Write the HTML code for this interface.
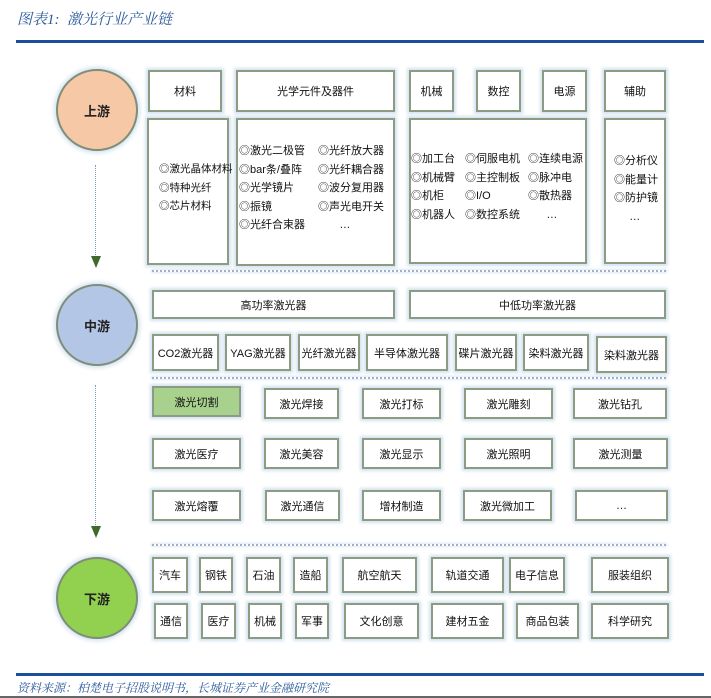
<!DOCTYPE html>
<html><head><meta charset="utf-8"><style>
body{margin:0;width:711px;height:698px;background:#fff;position:relative;overflow:hidden;font-family:"Liberation Sans","Noto Sans CJK SC",sans-serif;}
.b{position:absolute;box-sizing:border-box;border:2px solid #8c9c82;background:#fff;box-shadow:0 0 3px 2px #d3e2f0;display:flex;align-items:center;justify-content:center;font-size:11px;color:#111;text-align:center;white-space:nowrap}
.l{position:absolute;font-size:11px;line-height:18.5px;color:#111;white-space:nowrap}
.c{position:absolute;border-radius:50%;border:2px solid #7e8e78;box-sizing:border-box;display:flex;align-items:center;justify-content:center;font-size:13px;font-weight:bold;color:#222;box-shadow:0 0 4px 2px #d3e2f0}
.d{position:absolute;left:152px;width:514px;height:0;border-top:2px dotted #9fb0c8;box-shadow:0 0 2px 1px #dce8f4}
.v{position:absolute;left:95px;width:0;border-left:1.5px dotted #7f98b8}
.a{position:absolute;left:91px;width:0;height:0;border-left:5px solid transparent;border-right:5px solid transparent;border-top:12px solid #3f6a2a}
</style></head><body>
<div style="position:absolute;left:17px;top:8px;font-size:15px;font-style:italic;color:#2a5a9a;font-family:'Liberation Serif','Noto Serif CJK SC',serif">图表1:&nbsp; 激光行业产业链</div>
<div style="position:absolute;left:16px;top:40px;width:688px;height:3px;background:#1b4f9c"></div>

<div class="c" style="left:56px;top:69px;width:82px;height:82px;background:#f6c8a6">上游</div>
<div class="c" style="left:56px;top:284px;width:82px;height:82px;background:#b4c6e6">中游</div>
<div class="c" style="left:56px;top:557px;width:82px;height:82px;background:#92d050">下游</div>

<div class="v" style="top:165px;height:92px"></div><div class="a" style="top:256px"></div>
<div class="v" style="top:385px;height:142px"></div><div class="a" style="top:526px"></div>

<div class="b" style="left:148px;top:70px;width:74px;height:42px">材料</div>
<div class="b" style="left:236px;top:70px;width:159px;height:42px">光学元件及器件</div>
<div class="b" style="left:409px;top:70px;width:45px;height:42px">机械</div>
<div class="b" style="left:476px;top:70px;width:45px;height:42px">数控</div>
<div class="b" style="left:542px;top:70px;width:45px;height:42px">电源</div>
<div class="b" style="left:604px;top:70px;width:62px;height:42px">辅助</div>

<div class="b" style="left:147px;top:118px;width:82px;height:147px"></div>
<div class="b" style="left:236px;top:118px;width:159px;height:148px"></div>
<div class="b" style="left:409px;top:118px;width:178px;height:146px"></div>
<div class="b" style="left:604px;top:118px;width:62px;height:146px"></div>
<div class="l" style="left:159px;top:160px;font-size:10.5px">◎激光晶体材料<br>◎特种光纤<br>◎芯片材料</div>
<div class="l" style="left:239px;top:142px">◎激光二极管<br>◎bar条/叠阵<br>◎光学镜片<br>◎振镜<br>◎光纤合束器</div>
<div class="l" style="left:318px;top:142px">◎光纤放大器<br>◎光纤耦合器<br>◎波分复用器<br>◎声光电开关<br>&nbsp;&nbsp;&nbsp;&nbsp;&nbsp;&nbsp;&nbsp;…</div>
<div class="l" style="left:411px;top:150px">◎加工台<br>◎机械臂<br>◎机柜<br>◎机器人</div>
<div class="l" style="left:465px;top:150px">◎伺服电机<br>◎主控制板<br>◎I/O<br>◎数控系统</div>
<div class="l" style="left:528px;top:150px">◎连续电源<br>◎脉冲电<br>◎散热器<br>&nbsp;&nbsp;&nbsp;&nbsp;&nbsp;&nbsp;…</div>
<div class="l" style="left:614px;top:152px">◎分析仪<br>◎能量计<br>◎防护镜<br>&nbsp;&nbsp;&nbsp;&nbsp;&nbsp;…</div>

<div class="d" style="top:270px"></div>
<div class="b" style="left:152px;top:290px;width:243px;height:29px">高功率激光器</div>
<div class="b" style="left:409px;top:290px;width:257px;height:29px">中低功率激光器</div>
<div class="b" style="left:152px;top:334px;width:67px;height:37px">CO2激光器</div>
<div class="b" style="left:225px;top:334px;width:66px;height:37px">YAG激光器</div>
<div class="b" style="left:298px;top:334px;width:62px;height:37px">光纤激光器</div>
<div class="b" style="left:366px;top:334px;width:82px;height:37px">半导体激光器</div>
<div class="b" style="left:455px;top:334px;width:62px;height:37px">碟片激光器</div>
<div class="b" style="left:523px;top:334px;width:66px;height:37px">染料激光器</div>
<div class="b" style="left:596px;top:336px;width:71px;height:37px">染料激光器</div>

<div class="d" style="top:377px"></div>
<div class="b" style="left:152px;top:386px;width:89px;height:31px;background:#a9d18e">激光切割</div>
<div class="b" style="left:264px;top:388px;width:75px;height:31px">激光焊接</div>
<div class="b" style="left:362px;top:388px;width:79px;height:31px">激光打标</div>
<div class="b" style="left:464px;top:388px;width:89px;height:31px">激光雕刻</div>
<div class="b" style="left:573px;top:388px;width:94px;height:31px">激光钻孔</div>
<div class="b" style="left:152px;top:438px;width:89px;height:31px">激光医疗</div>
<div class="b" style="left:264px;top:438px;width:75px;height:31px">激光美容</div>
<div class="b" style="left:362px;top:438px;width:79px;height:31px">激光显示</div>
<div class="b" style="left:464px;top:438px;width:89px;height:31px">激光照明</div>
<div class="b" style="left:573px;top:438px;width:95px;height:31px">激光测量</div>
<div class="b" style="left:152px;top:490px;width:89px;height:31px">激光熔覆</div>
<div class="b" style="left:265px;top:490px;width:75px;height:31px">激光通信</div>
<div class="b" style="left:362px;top:490px;width:79px;height:31px">增材制造</div>
<div class="b" style="left:463px;top:490px;width:89px;height:31px">激光微加工</div>
<div class="b" style="left:575px;top:490px;width:93px;height:31px">…</div>

<div class="d" style="top:544px"></div>
<div class="b" style="left:152px;top:557px;width:36px;height:36px">汽车</div>
<div class="b" style="left:199px;top:557px;width:34px;height:36px">钢铁</div>
<div class="b" style="left:246px;top:557px;width:35px;height:36px">石油</div>
<div class="b" style="left:293px;top:557px;width:35px;height:36px">造船</div>
<div class="b" style="left:342px;top:557px;width:75px;height:36px">航空航天</div>
<div class="b" style="left:431px;top:557px;width:73px;height:36px">轨道交通</div>
<div class="b" style="left:509px;top:557px;width:56px;height:36px">电子信息</div>
<div class="b" style="left:591px;top:557px;width:78px;height:36px">服装组织</div>
<div class="b" style="left:154px;top:603px;width:34px;height:36px">通信</div>
<div class="b" style="left:201px;top:603px;width:35px;height:36px">医疗</div>
<div class="b" style="left:248px;top:603px;width:34px;height:36px">机械</div>
<div class="b" style="left:295px;top:603px;width:34px;height:36px">军事</div>
<div class="b" style="left:344px;top:603px;width:75px;height:36px">文化创意</div>
<div class="b" style="left:431px;top:603px;width:73px;height:36px">建材五金</div>
<div class="b" style="left:516px;top:603px;width:63px;height:36px">商品包装</div>
<div class="b" style="left:591px;top:603px;width:78px;height:36px">科学研究</div>

<div style="position:absolute;left:16px;top:673px;width:688px;height:3px;background:#1b4f9c"></div>
<div style="position:absolute;left:17px;top:679px;font-size:12px;font-style:italic;color:#2a5a9a;font-family:'Liberation Serif','Noto Serif CJK SC',serif">资料来源：柏楚电子招股说明书，长城证券产业金融研究院</div>
<div style="position:absolute;left:0;top:696px;width:711px;height:2px;background:#666"></div>
</body></html>
